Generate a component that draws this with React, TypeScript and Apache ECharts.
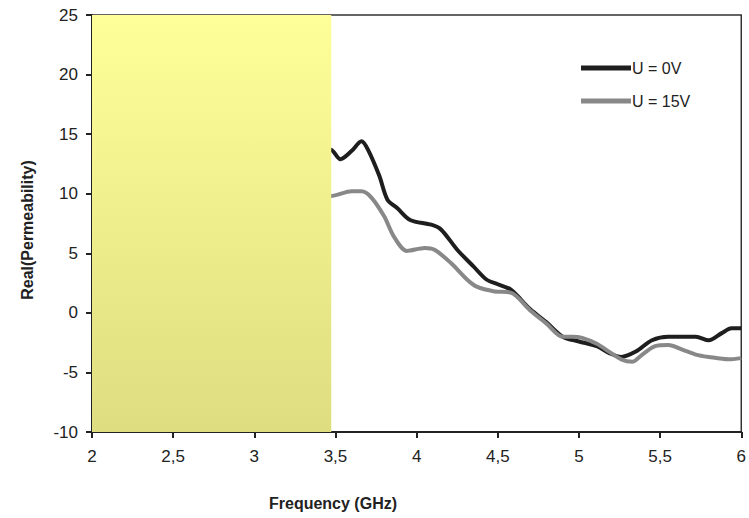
import React, { useEffect, useRef } from "react";
import * as echarts from "echarts";

const freq0 = [3.40, 3.47, 3.53, 3.60, 3.66, 3.70, 3.77, 3.82, 3.88, 3.96, 4.09, 4.15, 4.25, 4.35, 4.43, 4.50, 4.58, 4.70, 4.80, 4.90, 5.00, 5.11, 5.19, 5.26, 5.35, 5.45, 5.55, 5.72, 5.80, 5.88, 5.94, 6.00];
const u0V = [13.5, 13.7, 12.9, 13.6, 14.4, 13.7, 11.5, 9.5, 8.8, 7.8, 7.4, 7.0, 5.3, 3.9, 2.8, 2.4, 1.95, 0.3, -0.8, -2.0, -2.4, -2.8, -3.4, -3.7, -3.25, -2.3, -2.0, -2.0, -2.3, -1.7, -1.3, -1.3];

const freq15 = [3.40, 3.47, 3.60, 3.66, 3.72, 3.80, 3.86, 3.94, 4.05, 4.11, 4.21, 4.31, 4.37, 4.48, 4.58, 4.70, 4.80, 4.90, 4.96, 5.02, 5.11, 5.19, 5.26, 5.33, 5.39, 5.47, 5.55, 5.64, 5.72, 5.80, 5.92, 6.00];
const u15V = [9.8, 9.8, 10.2, 10.2, 9.7, 8.1, 6.4, 5.2, 5.45, 5.3, 4.2, 2.8, 2.2, 1.8, 1.7, 0.2, -0.9, -2.0, -2.0, -2.1, -2.6, -3.3, -3.9, -4.1, -3.5, -2.8, -2.7, -3.1, -3.5, -3.7, -3.9, -3.8];

const seriesNames = ["U = 0V", "U = 15V"];
const highlightRange = [2, 3.474];
const yRange = [-10, 25];

const FONT = "'Liberation Sans', Arial, sans-serif";

export default function App() {
  const ref = useRef<HTMLDivElement>(null);
  useEffect(() => {
    if (!ref.current) return;
    const chart = echarts.init(ref.current, null, { renderer: "svg" });
    chart.setOption({
      animation: false,
      backgroundColor: "#ffffff",
      grid: {
        left: 92,
        right: 4,
        top: 15,
        bottom: 86,
        show: true,
        borderColor: "#333",
        borderWidth: 1.5,
      },
      legend: {
        orient: "vertical",
        left: 576,
        top: 55,
        itemWidth: 50,
        itemHeight: 5,
        itemGap: 17,
        icon: "rect",
        textStyle: { fontFamily: FONT, fontSize: 16, color: "#222", padding: [0, 0, 0, -4] },
        data: seriesNames,
      },
      xAxis: {
        type: "value",
        min: 2,
        max: 6,
        interval: 0.5,
        axisLine: { show: true, onZero: false, lineStyle: { color: "#222", width: 2 } },
        axisTick: { show: true, length: 6, lineStyle: { color: "#222", width: 2 } },
        axisLabel: {
          margin: 16,
          fontFamily: FONT,
          fontSize: 17,
          color: "#222",
          formatter: (v: number) => String(v).replace(".", ","),
        },
        splitLine: { show: false },
      },
      yAxis: {
        type: "value",
        min: yRange[0],
        max: yRange[1],
        interval: 5,
        axisLine: { show: true, lineStyle: { color: "#222", width: 2 } },
        axisTick: { show: true, length: 6, lineStyle: { color: "#222", width: 2 } },
        axisLabel: { margin: 14, fontFamily: FONT, fontSize: 17, color: "#222" },
        splitLine: { show: false },
      },
      series: [
        {
          name: seriesNames[0],
          type: "line",
          data: freq0.map((f, i) => [f, u0V[i]]),
          showSymbol: false,
          smooth: 0.3,
          z: 2,
          lineStyle: { color: "#1e1e1e", width: 4 },
          itemStyle: { color: "#1e1e1e" },
        },
        {
          name: seriesNames[1],
          type: "line",
          data: freq15.map((f, i) => [f, u15V[i]]),
          showSymbol: false,
          smooth: 0.3,
          z: 2,
          lineStyle: { color: "#888888", width: 4 },
          itemStyle: { color: "#888888" },
        },
      ],
      graphic: [
        {
          type: "text",
          x: 27,
          y: 230,
          rotation: Math.PI / 2,
          style: {
            text: "Real(Permeability)",
            fontFamily: FONT,
            fontWeight: "bold",
            fontSize: 16,
            fill: "#222",
            align: "center",
            verticalAlign: "middle",
          },
        },
        {
          type: "text",
          x: 333,
          y: 503,
          style: {
            text: "Frequency (GHz)",
            fontFamily: FONT,
            fontWeight: "bold",
            fontSize: 16,
            fill: "#222",
            align: "center",
            verticalAlign: "middle",
          },
        },
      ],
    });
    const p0 = chart.convertToPixel({ gridIndex: 0 }, [highlightRange[0], yRange[1]]) as number[];
    const p1 = chart.convertToPixel({ gridIndex: 0 }, [highlightRange[1], yRange[0]]) as number[];
    chart.setOption({
      graphic: [
        {
          type: "rect",
          id: "highlight",
          z: 100,
          shape: { x: p0[0], y: p0[1], width: p1[0] - p0[0], height: p1[1] - p0[1] },
          style: {
            fill: new echarts.graphic.LinearGradient(0, 0, 0, 1, [
              { offset: 0, color: "#ffff99" },
              { offset: 1, color: "#dedd80" },
            ]),
          },
        },
      ],
    });
    return () => chart.dispose();
  }, []);
  return <div ref={ref} style={{ width: 749, height: 518, position: "absolute", left: 0, top: 0 }} />;
}
